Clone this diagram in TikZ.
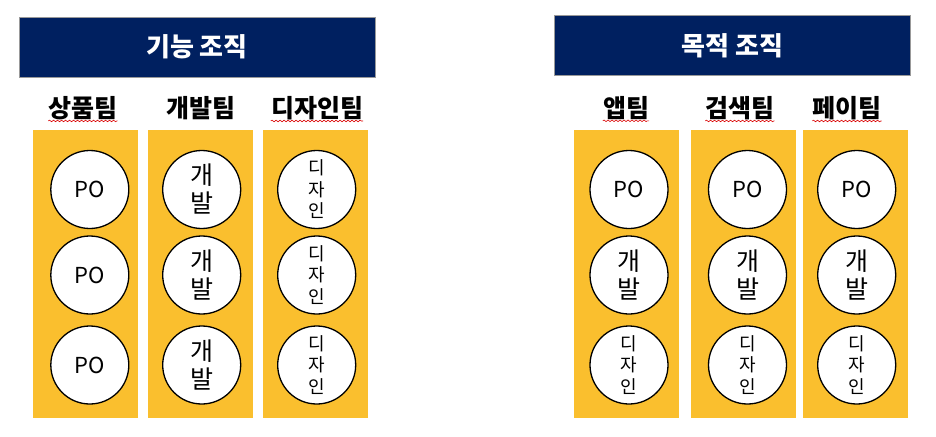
\documentclass[tikz,border=0pt]{standalone}
\usepackage{fontspec}
\setmainfont{Noto Sans CJK KR}
\usepackage{xcolor}
\usetikzlibrary{decorations.pathmorphing}
\definecolor{barnavy}{HTML}{002060}
\definecolor{teamyellow}{HTML}{FABF2E}

\begin{document}
\begin{tikzpicture}[x=1pt,y=-1pt,
  titlebar/.style={draw=gray!80, line width=0.8pt, fill=barnavy, text=white,
    font=\fontsize{26}{29}\selectfont\bfseries,
    minimum width=356pt, minimum height=60pt, inner sep=0pt},
  column/.style={fill=teamyellow, minimum width=105pt, minimum height=288pt, inner sep=0pt},
  team/.style={font=\fontsize{25}{28}\selectfont\bfseries, inner sep=0pt},
  member/.style={circle, draw, fill=white, line width=1.3pt, minimum size=78pt,
    inner sep=0pt, align=center},
  po/.style={member, font=\fontsize{22}{26}\selectfont},
  dev/.style={member, font=\fontsize{25}{28}\selectfont},
  design/.style={member, font=\fontsize{18}{21.5}\selectfont},
  squiggle/.style={red!85!black, line width=0.6pt, decorate,
    decoration={snake, amplitude=0.8pt, segment length=4pt}}]
  % Fix the page size
  \useasboundingbox (0,0) rectangle (936,436);
  % Draw title bars
  \node[titlebar] (funcbar) at (197,47) {기능 조직};
  \node[titlebar] (goalbar) at (732.5,45.5) {목적 조직};
  % Draw team columns
  \foreach \name/\x in {sang/85, gae/200.5, di/315, app/626, search/743.5, pay/855} {
    \node[column] (\name col) at (\x,274) {};
  }
  % Team names
  \node[team] (sang) at (83,108) {상품팀};
  \node[team] (gae) at (201,108) {개발팀};
  \node[team] (di) at (317,108) {디자인팀};
  \node[team] (app) at (626,108) {앱팀};
  \node[team] (search) at (740,108) {검색팀};
  \node[team] (pay) at (847,108) {페이팀};
  % Spell-check marks under the names
  \foreach \name in {sang, di, app, search, pay} {
    \draw[squiggle] ([yshift=-1pt]\name.south west) -- ([yshift=-1pt]\name.south east);
  }
  % Members, left side
  \foreach \y [count=\i] in {189.5,275,365} {
    \node[po] (sang\i) at (89.8,\y) {PO};
    \node[dev] (gae\i) at (201.7,\y) {개\\발};
    \node[design] (di\i) at (316.7,\y) {디\\자\\인};
  }
  % Members, right side
  \foreach \name/\x in {app/629, search/747.5, pay/856.7} {
    \node[po] (\name1) at (\x,189.5) {PO};
    \node[dev] (\name2) at (\x,275) {개\\발};
    \node[design] (\name3) at (\x,365) {디\\자\\인};
  }
\end{tikzpicture}
\end{document}
